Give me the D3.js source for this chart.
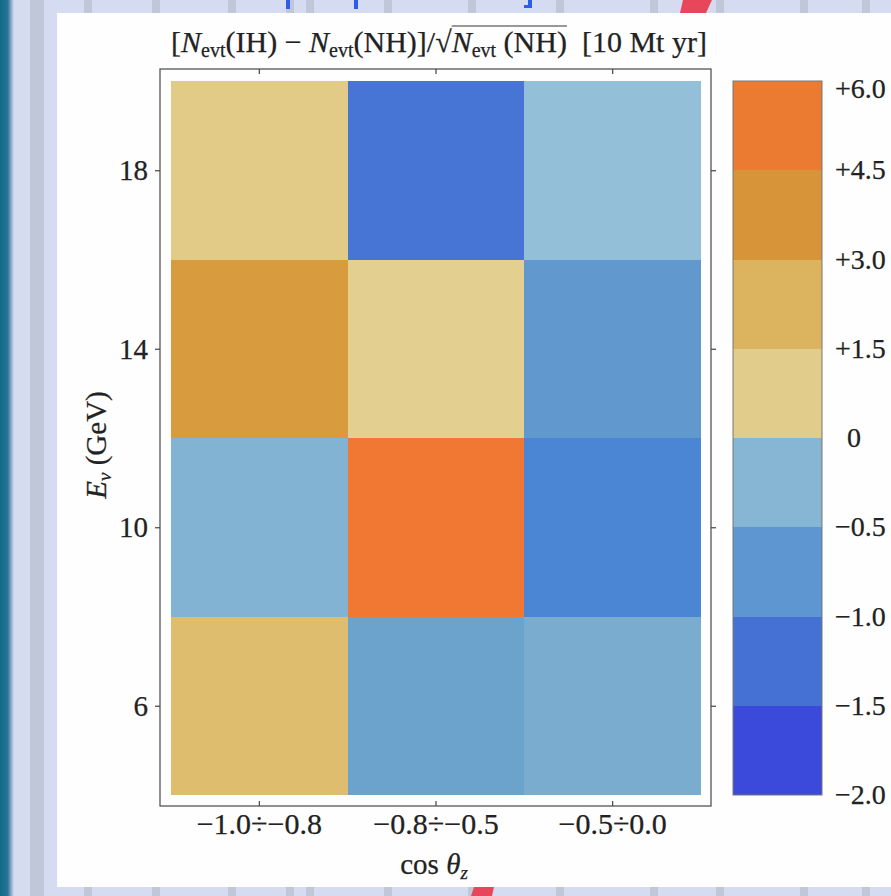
<!DOCTYPE html>
<html>
<head>
<meta charset="utf-8">
<script src="https://cdn.jsdelivr.net/npm/d3@7"></script>
<style>
  html, body { margin: 0; padding: 0; background: #d5dcf2; }
  svg text { font-family: "Liberation Serif", "Times New Roman", Times, serif; fill: #222; stroke: #222; stroke-width: 0.25; }
</style>
</head>
<body>
<div id="chart"></div>
<script>
// cos(theta_z) bins (columns) and energy bin edges (rows, GeV)
var cosBins = ["−1.0÷−0.8", "−0.8÷−0.5", "−0.5÷0.0"];
var energyEdges = [4, 8, 12, 16, 20];
var energyTicks = [6, 10, 14, 18];

// [N(IH) - N(NH)] / sqrt(N(NH)), one row per energy bin, bottom row first
var row4to8   = [1.8, -0.55, -0.4];
var row8to12  = [-0.3, 5.5, -1.0];
var row12to16 = [3.4, 0.5, -0.7];
var row16to20 = [0.9, -1.2, -0.1];
var cellRows = [row4to8, row8to12, row12to16, row16to20];

// colour bar
var legendStops  = [-2.0, -1.5, -1.0, -0.5, 0, 1.5, 3.0, 4.5, 6.0];
var legendLabels = ["−2.0", "−1.5", "−1.0", "−0.5", "0", "+1.5", "+3.0", "+4.5", "+6.0"];
var colorDomain = [-2.0, -1.5, -1.0, -0.5, -0.0001, 0, 1.5, 3.0, 4.5, 6.0];
var colorRange  = ["#3838de", "#405cd7", "#4a86d3", "#70a6cc", "#9cc6db",
                   "#e4d49c", "#e0c479", "#d8a444", "#d8842c", "#fc7236"];

var W = 891, H = 896;

var svg = d3.select("#chart").append("svg")
    .attr("width", W)
    .attr("height", H);

// ---- slide background (photo of a projected slide) ----
svg.append("rect").attr("width", W).attr("height", H).attr("fill", "#d5dcf2");
var stripeX = [30, 84, 152, 228, 286, 306, 384, 468, 556, 650, 716, 800, 862];
svg.selectAll("rect.stripe").data(stripeX).enter().append("rect")
    .attr("class", "stripe")
    .attr("x", function(d) { return d; })
    .attr("y", 0)
    .attr("width", function(d, i) { return i == 0 ? 14 : 8; })
    .attr("height", H)
    .attr("fill", "#bfc7d8");
var edge = svg.append("defs").append("linearGradient").attr("id", "edge");
edge.append("stop").attr("offset", "0%").attr("stop-color", "#0f6a8c");
edge.append("stop").attr("offset", "55%").attr("stop-color", "#2a7394");
edge.append("stop").attr("offset", "100%").attr("stop-color", "#d5dcf2");
svg.append("rect").attr("x", 0).attr("y", 0).attr("width", 14).attr("height", H)
    .attr("fill", "url(#edge)");

// red marks top and bottom, blue bits of the slide title
svg.append("path").attr("d", "M683,0 L712,0 L706,13 L680,13 Z").attr("fill", "#e8465a");
svg.append("path").attr("d", "M474,887 L494,887 L492,896 L471,896 Z").attr("fill", "#e8465a");
svg.append("rect").attr("x", 286).attr("y", 0).attr("width", 4).attr("height", 9).attr("fill", "#2a5ee8");
svg.append("rect").attr("x", 354).attr("y", 0).attr("width", 4).attr("height", 9).attr("fill", "#2a5ee8");
svg.append("path").attr("d", "M524,8 L532,8 L532,0 L528,0 L528,5 L524,5 Z").attr("fill", "#2a5ee8");

// white panel holding the figure
svg.append("rect").attr("x", 57).attr("y", 13).attr("width", W - 57).attr("height", 874)
    .attr("fill", "#fefefe");

// ---- scales ----
var x = d3.scaleBand().domain(cosBins).range([171, 701]).padding(0);
var y = d3.scaleLinear().domain([4, 20]).range([795, 81]);
var color = d3.scaleLinear().domain(colorDomain).range(colorRange);

var cells = [];
cellRows.forEach(function(row, r) {
    row.forEach(function(v, c) {
        cells.push({ col: cosBins[c], e0: energyEdges[r], e1: energyEdges[r + 1], v: v });
    });
});

svg.append("g").selectAll("rect").data(cells).enter().append("rect")
    .attr("x", function(d) { return x(d.col); })
    .attr("y", function(d) { return y(d.e1); })
    .attr("width", x.bandwidth())
    .attr("height", function(d) { return y(d.e0) - y(d.e1); })
    .attr("fill", function(d) { return color(d.v); })
    .attr("shape-rendering", "crispEdges");

// frame
var fx0 = 160, fx1 = 711, fy0 = 69, fy1 = 806;
svg.append("rect").attr("x", fx0).attr("y", fy0)
    .attr("width", fx1 - fx0).attr("height", fy1 - fy0)
    .attr("fill", "none").attr("stroke", "#555").attr("stroke-width", 1.3);

function styleAxis(g) {
    g.select(".domain").remove();
    g.selectAll(".tick line").attr("stroke", "#444").attr("stroke-width", 1.2);
    g.selectAll(".tick text").attr("font-size", 29).attr("fill", "#222")
        .attr("font-family", "Liberation Serif, Times New Roman, serif");
}

svg.append("g").attr("transform", "translate(" + fx0 + ",0)")
    .call(d3.axisLeft(y).tickValues(energyTicks).tickSize(5).tickPadding(7))
    .call(styleAxis);
svg.append("g").attr("transform", "translate(" + fx1 + ",0)")
    .call(d3.axisRight(y).tickValues(energyTicks).tickSize(5).tickFormat(""))
    .call(styleAxis);
svg.append("g").attr("transform", "translate(0," + fy1 + ")")
    .call(d3.axisBottom(x).tickSize(-5).tickPadding(7))
    .call(styleAxis)
    .selectAll(".tick text").attr("font-size", 30);
svg.append("g").attr("transform", "translate(0," + fy0 + ")")
    .call(d3.axisTop(x).tickSize(-5).tickFormat(""))
    .call(styleAxis);

// ---- colour bar ----
var bands = legendStops.slice(0, -1).map(function(v, i) {
    return { lo: v, hi: legendStops[i + 1] };
});
var ly = d3.scalePoint().domain(legendStops).range([795, 81]);
var bar = svg.append("g");
bar.selectAll("rect").data(bands).enter().append("rect")
    .attr("x", 733)
    .attr("y", function(d) { return ly(d.hi); })
    .attr("width", 89)
    .attr("height", function(d) { return ly(d.lo) - ly(d.hi); })
    .attr("fill", function(d) { return color((d.lo + d.hi) / 2); })
    .attr("shape-rendering", "crispEdges");
bar.append("rect").attr("x", 733).attr("y", 81).attr("width", 89).attr("height", 714)
    .attr("fill", "none").attr("stroke", "#777").attr("stroke-width", 1);
bar.selectAll("text").data(legendStops).enter().append("text")
    .attr("x", function(d) { return d == 0 ? 847 : 835; })
    .attr("y", function(d) { return ly(d) + (d == 6 ? 17 : 9); })
    .attr("font-size", 28)
    .text(function(d, i) { return legendLabels[i]; });

// ---- titles ----
var title = svg.append("text").attr("x", 439).attr("y", 52)
    .attr("text-anchor", "middle").attr("font-size", 30)
    .style("white-space", "pre");
var pieces = [
    { t: "[" }, { t: "N", it: 1 }, { t: "evt", sub: 1 }, { t: "(IH) − " },
    { t: "N", it: 1 }, { t: "evt", sub: 1 }, { t: "(NH)]/√" },
    { t: "N", it: 1 }, { t: "evt", sub: 1 }, { t: " (NH)" }, { t: "  [10 Mt yr]" }
];
var prevSub = false;
pieces.forEach(function(p) {
    var ts = title.append("tspan").text(p.t);
    if (p.it) ts.attr("font-style", "italic");
    if (p.sub) { ts.attr("font-size", 20).attr("dy", 5); prevSub = true; }
    else if (prevSub) { ts.attr("dy", -5); prevSub = false; }
});
// overline of the square root
var full = pieces.map(function(p) { return p.t; }).join("");
var iStart = full.indexOf("√") + 1;
var iEnd = full.lastIndexOf(")");
var tn = title.node();
var a = tn.getExtentOfChar(iStart), b = tn.getExtentOfChar(iEnd);
svg.append("line")
    .attr("x1", a.x).attr("x2", b.x + b.width)
    .attr("y1", a.y + 1).attr("y2", a.y + 1)
    .attr("stroke", "#333").attr("stroke-width", 1.2);

var yl = svg.append("text")
    .attr("transform", "translate(106,445) rotate(-90)")
    .attr("text-anchor", "middle").attr("font-size", 29);
yl.append("tspan").attr("font-style", "italic").text("E");
yl.append("tspan").attr("font-size", 19).attr("dy", 5).attr("font-style", "italic").text("ν");
yl.append("tspan").attr("dy", -5).text(" (GeV)");

var xl = svg.append("text").attr("x", 434).attr("y", 874)
    .attr("text-anchor", "middle").attr("font-size", 29);
xl.append("tspan").text("cos ");
xl.append("tspan").attr("font-style", "italic").text("θ");
xl.append("tspan").attr("font-size", 19).attr("dy", 5).attr("font-style", "italic").text("z");
</script>
</body>
</html>
